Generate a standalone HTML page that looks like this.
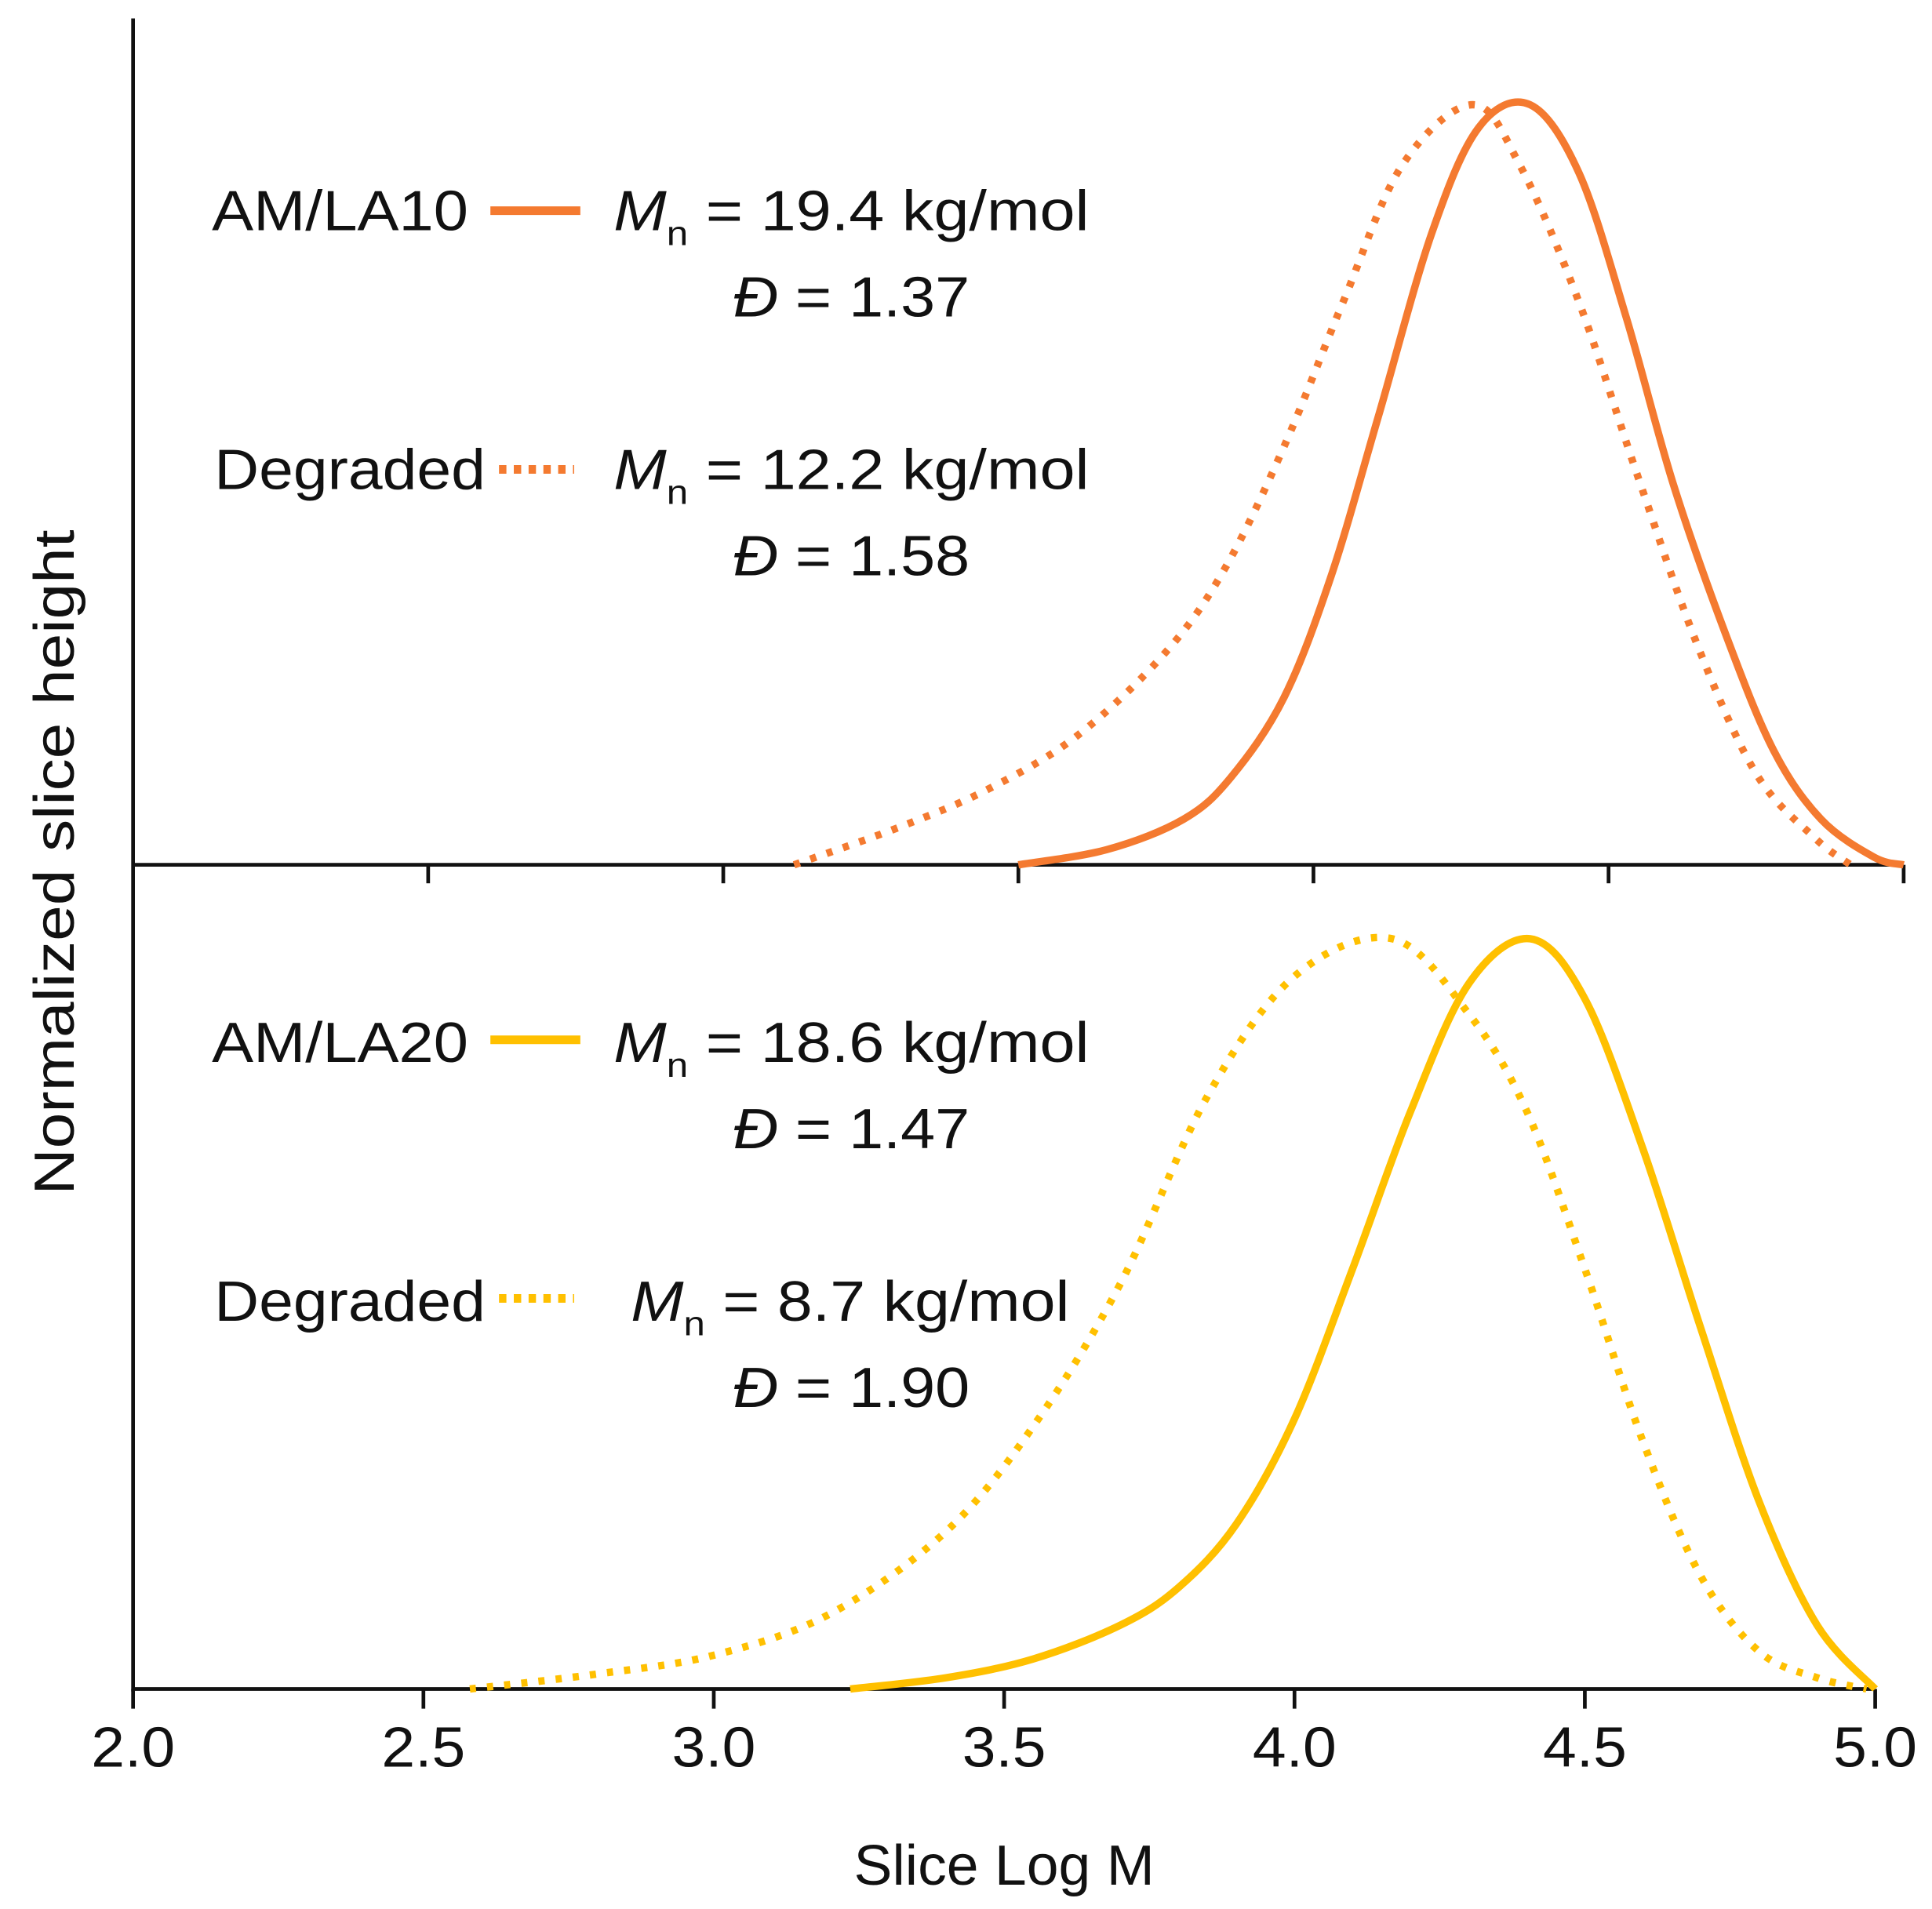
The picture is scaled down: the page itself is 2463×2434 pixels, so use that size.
<!DOCTYPE html>
<html><head><meta charset="utf-8"><style>
html,body{margin:0;padding:0;background:#fff;}
svg{display:block;}
text{font-family:"Liberation Sans Narrow","Liberation Sans",sans-serif;fill:#111;}
</style></head><body>
<svg id="chart" width="2463" height="2434" viewBox="0 0 1568 1549.6" preserveAspectRatio="none" xmlns="http://www.w3.org/2000/svg">
<g id="axes"></g>
<g id="series"></g>
<g font-size="46">
  <text x="172" y="187" textLength="208" lengthAdjust="spacingAndGlyphs">AM/LA10</text>
  <line x1="398" y1="171" x2="471" y2="171" stroke="#F47A30" stroke-width="7"/>
  <text x="498" y="187" textLength="386" lengthAdjust="spacingAndGlyphs"><tspan font-style="italic">M</tspan><tspan font-size="28" dy="12">n</tspan><tspan dy="-12"> = 19.4 kg/mol</tspan></text>
  <text x="595" y="257" textLength="192" lengthAdjust="spacingAndGlyphs"><tspan font-style="italic">Đ</tspan> = 1.37</text>
  <text x="174" y="397" textLength="220" lengthAdjust="spacingAndGlyphs">Degraded</text>
  <line x1="405" y1="381" x2="466" y2="381" stroke="#F47A30" stroke-width="7" stroke-dasharray="6 6"/>
  <text x="498" y="397" textLength="386" lengthAdjust="spacingAndGlyphs"><tspan font-style="italic">M</tspan><tspan font-size="28" dy="12">n</tspan><tspan dy="-12"> = 12.2 kg/mol</tspan></text>
  <text x="595" y="467" textLength="192" lengthAdjust="spacingAndGlyphs"><tspan font-style="italic">Đ</tspan> = 1.58</text>
</g>
<g font-size="46">
  <text x="172" y="862" textLength="208" lengthAdjust="spacingAndGlyphs">AM/LA20</text>
  <line x1="398" y1="844" x2="471" y2="844" stroke="#FFC000" stroke-width="7"/>
  <text x="498" y="862" textLength="386" lengthAdjust="spacingAndGlyphs"><tspan font-style="italic">M</tspan><tspan font-size="28" dy="12">n</tspan><tspan dy="-12"> = 18.6 kg/mol</tspan></text>
  <text x="595" y="932" textLength="192" lengthAdjust="spacingAndGlyphs"><tspan font-style="italic">Đ</tspan> = 1.47</text>
  <text x="174" y="1072" textLength="220" lengthAdjust="spacingAndGlyphs">Degraded</text>
  <line x1="405" y1="1054" x2="466" y2="1054" stroke="#FFC000" stroke-width="7" stroke-dasharray="6 6"/>
  <text x="512" y="1072" textLength="356" lengthAdjust="spacingAndGlyphs"><tspan font-style="italic">M</tspan><tspan font-size="28" dy="12">n</tspan><tspan dy="-12"> = 8.7 kg/mol</tspan></text>
  <text x="595" y="1142" textLength="192" lengthAdjust="spacingAndGlyphs"><tspan font-style="italic">Đ</tspan> = 1.90</text>
</g>
<text x="815" y="1530" font-size="46" text-anchor="middle" textLength="244" lengthAdjust="spacingAndGlyphs">Slice Log M</text>
<text transform="translate(60,700) rotate(-90)" font-size="46" text-anchor="middle" textLength="540" lengthAdjust="spacingAndGlyphs" style="font-family:'Liberation Sans',sans-serif">Normalized slice height</text>
</svg>
<script>
const xTicks = [2.0, 2.5, 3.0, 3.5, 4.0, 4.5, 5.0];
const xTickLabels = ["2.0","2.5","3.0","3.5","4.0","4.5","5.0"];
const topSolidX = [3.50,3.65,3.78,3.86,3.95,4.03,4.11,4.20,4.28,4.367,4.45,4.53,4.61,4.70,4.78,4.86,4.95,5.00];
const topSolidY = [0,0.02,0.06,0.115,0.22,0.38,0.59,0.83,0.97,1.0,0.91,0.72,0.50,0.30,0.15,0.06,0.01,0];
const topDotX = [3.12,3.30,3.45,3.60,3.75,3.85,3.95,4.05,4.15,4.27,4.35,4.45,4.55,4.65,4.75,4.85,4.91];
const topDotY = [0,0.05,0.10,0.17,0.28,0.39,0.55,0.74,0.92,1.0,0.92,0.74,0.51,0.29,0.12,0.035,0];
const botSolidX = [3.235,3.40,3.55,3.70,3.80,3.90,4.00,4.10,4.20,4.30,4.406,4.50,4.60,4.70,4.80,4.90,5.00];
const botSolidY = [0,0.015,0.04,0.085,0.135,0.22,0.36,0.56,0.77,0.94,1.0,0.92,0.72,0.48,0.25,0.085,0];
const botDotX = [2.58,2.80,3.00,3.20,3.40,3.55,3.70,3.85,4.00,4.168,4.30,4.40,4.50,4.60,4.70,4.80,4.90,4.985];
const botDotY = [0,0.02,0.045,0.10,0.21,0.35,0.54,0.79,0.95,1.0,0.90,0.77,0.56,0.33,0.15,0.05,0.015,0];

const NS = "http://www.w3.org/2000/svg";
const topX = v => 108 + (v - 2) * 479;
const botX = v => 108 + (v - 2) * 471.3;
const topY = v => 702 - v * 617;
const botY = v => 1371 - v * 609;

function mk(tag, attrs, parent) {
  const e = document.createElementNS(NS, tag);
  for (const k in attrs) e.setAttribute(k, attrs[k]);
  parent.appendChild(e);
  return e;
}
function smoothPath(pts) {
  let d = "M" + pts[0][0] + "," + pts[0][1];
  for (let i = 0; i < pts.length - 1; i++) {
    const p0 = pts[Math.max(0, i - 1)], p1 = pts[i], p2 = pts[i + 1], p3 = pts[Math.min(pts.length - 1, i + 2)];
    const c1 = [p1[0] + (p2[0] - p0[0]) / 6, p1[1] + (p2[1] - p0[1]) / 6];
    const c2 = [p2[0] - (p3[0] - p1[0]) / 6, p2[1] - (p3[1] - p1[1]) / 6];
    d += " C" + c1[0] + "," + c1[1] + " " + c2[0] + "," + c2[1] + " " + p2[0] + "," + p2[1];
  }
  return d;
}
const axes = document.getElementById("axes");
const series = document.getElementById("series");

const yAxis = mk("line", {x1:108, y1:15, x2:108, y2:1373, stroke:"#111", "stroke-width":3}, axes);


const topBase = mk("line", {x1:108, y1:702, x2:topX(5), y2:702, stroke:"#111", "stroke-width":3}, axes);


const botBase = mk("line", {x1:108, y1:1371, x2:botX(5), y2:1371, stroke:"#111", "stroke-width":3}, axes);



xTicks.forEach((t, i) => {
  if (i > 0) {
    const tt = mk("line", {x1:topX(t), y1:702, x2:topX(t), y2:717, stroke:"#111", "stroke-width":3}, axes);
    
    
  }
  const bt = mk("line", {x1:botX(t), y1:1371, x2:botX(t), y2:1387, stroke:"#111", "stroke-width":3}, axes);
  
  
  const lb = mk("text", {x:botX(t), y:1434, "font-size":46, "text-anchor":"middle", textLength:68, lengthAdjust:"spacingAndGlyphs"}, axes);
  lb.textContent = xTickLabels[i];
  
  
});

function drawSeries(xs, ys, fx, fy, color, dotted, name) {
  const pts = xs.map((x, i) => [fx(x), fy(ys[i])]);
  const attrs = {d: smoothPath(pts), fill:"none", stroke:color, "stroke-width":6, "stroke-linejoin":"round"};
  if (dotted) attrs["stroke-dasharray"] = "5 9";
  const p = mk("path", attrs, series);
  
  
}
drawSeries(topDotX, topDotY, topX, topY, "#F47A30", true, "amla10-degraded-curve");
drawSeries(topSolidX, topSolidY, topX, topY, "#F47A30", false, "amla10-curve");
drawSeries(botDotX, botDotY, botX, botY, "#FFC000", true, "amla20-degraded-curve");
drawSeries(botSolidX, botSolidY, botX, botY, "#FFC000", false, "amla20-curve");
</script>
</body></html>
